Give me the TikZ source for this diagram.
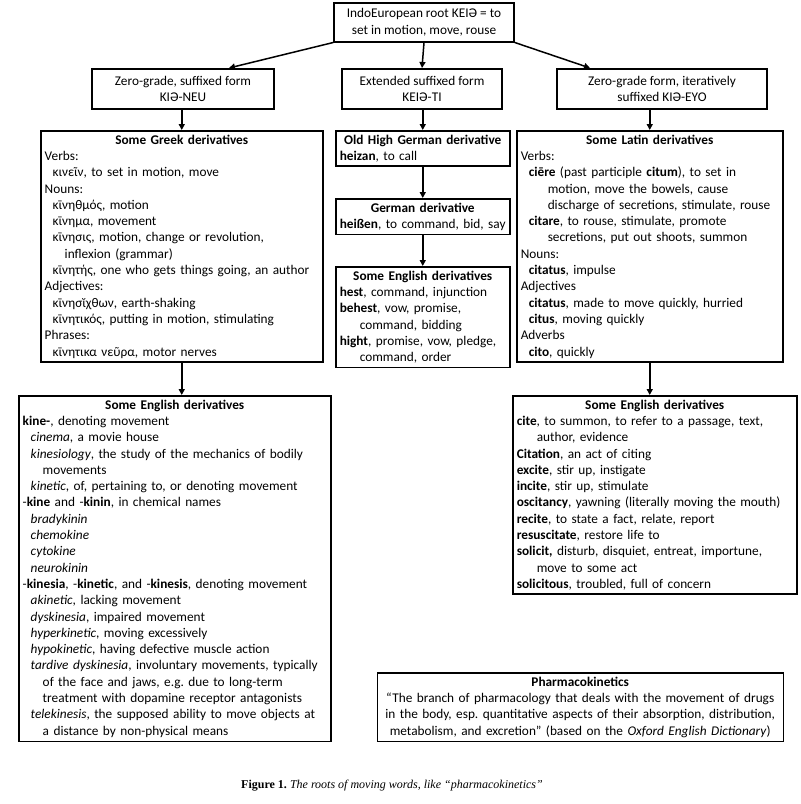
\documentclass[tikz,border=0pt]{standalone}
\usepackage{fontspec}
\setmainfont{Carlito}
\newfontfamily\capfont{Liberation Serif}
\usetikzlibrary{arrows.meta,positioning}
\setlength{\parindent}{0pt}
\frenchspacing
\newcommand{\txt}{\fontsize{13.3}{16.3}\selectfont}
\newcommand{\boxhead}[1]{{\centering\bfseries #1\par}}
\newcommand{\ia}{\hspace*{8pt}}
\newcommand{\ib}{\hspace*{20pt}}
\newcommand{\ic}{\hspace*{27pt}}
\begin{document}
\begin{tikzpicture}[x=1pt, y=-1pt,
  formbox/.style={draw, line width=1.5pt, anchor=north, align=center,
    inner sep=3pt, minimum height=40pt, font=\txt},
  panel/.style={draw, line width=1.5pt, anchor=north west, align=left,
    inner xsep=4pt, inner ysep=4pt, font=\txt},
  arr/.style={-{Triangle[length=6pt,width=6pt]}, line width=1.5pt}
]
\useasboundingbox (0,0) rectangle (801,804);

%% Root and the three forms
\node[formbox, minimum width=180pt, minimum height=39pt] (root) at (424,2)
  {IndoEuropean root KEIƏ = to\\set in motion, move, rouse};
\node[formbox, minimum width=182pt] (zero) at (183,68)
  {Zero-grade, suffixed form\\KIƏ-NEU};
\node[formbox, minimum width=160pt] (ext) at (422,68)
  {Extended suffixed form\\KEIƏ-TI};
\node[formbox, minimum width=210pt] (iter) at (662,68)
  {Zero-grade form, iteratively\\suffixed KIƏ-EYO};

%% Greek column
\node[panel, text width=274pt] (greek) at (40,130) {%
  \boxhead{Some Greek derivatives}
  Verbs:\\
  \ia κινεῖν, to set in motion, move\\
  Nouns:\\
  \ia κῑνηθμός, motion\\
  \ia κῑνημα, movement\\
  \ia κῑνησις, motion, change or revolution,\\
  \ib inflexion (grammar)\\
  \ia κῑνητής, one who gets things going, an author\\
  Adjectives:\\
  \ia κῑνησῐχθων, earth-shaking\\
  \ia κῑνητικός, putting in motion, stimulating\\
  Phrases:\\
  \ia κῑνητικα νεῦρα, motor nerves};

%% German column
\node[panel, text width=166pt] (ohg) at (335,130) {%
  \boxhead{Old High German derivative}
  \textbf{heizan}, to call};
\node[panel, text width=166pt] (german) at (335,198) {%
  \boxhead{German derivative}
  \textbf{heißen}, to command, bid, say};
\node[panel, text width=166pt] (engmid) at (335,266) {%
  \boxhead{Some English derivatives}
  \textbf{hest}, command, injunction\\
  \textbf{behest}, vow, promise,\\
  \ib command, bidding\\
  \textbf{hight}, promise, vow, pledge,\\
  \ib command, order};

%% Latin column
\node[panel, text width=258pt] (latin) at (516,130) {%
  \boxhead{Some Latin derivatives}
  Verbs:\\
  \ia\textbf{ciēre} (past participle \textbf{citum}), to set in\\
  \ic motion, move the bowels, cause\\
  \ic discharge of secretions, stimulate, rouse\\
  \ia\textbf{citare}, to rouse, stimulate, promote\\
  \ic secretions, put out shoots, summon\\
  Nouns:\\
  \ia\textbf{citatus}, impulse\\
  Adjectives\\
  \ia\textbf{citatus}, made to move quickly, hurried\\
  \ia\textbf{citus}, moving quickly\\
  Adverbs\\
  \ia\textbf{cito}, quickly};

%% English derivatives
\node[panel, text width=304pt] (engleft) at (18,395) {%
  \boxhead{Some English derivatives}
  \textbf{kine-}, denoting movement\\
  \ia\textit{cinema}, a movie house\\
  \ia\textit{kinesiology}, the study of the mechanics of bodily\\
  \ib movements\\
  \ia\textit{kinetic}, of, pertaining to, or denoting movement\\
  -\textbf{kine} and -\textbf{kinin}, in chemical names\\
  \ia\textit{bradykinin}\\
  \ia\textit{chemokine}\\
  \ia\textit{cytokine}\\
  \ia\textit{neurokinin}\\
  -\textbf{kinesia}, -\textbf{kinetic}, and -\textbf{kinesis}, denoting movement\\
  \ia\textit{akinetic}, lacking movement\\
  \ia\textit{dyskinesia}, impaired movement\\
  \ia\textit{hyperkinetic}, moving excessively\\
  \ia\textit{hypokinetic}, having defective muscle action\\
  \ia\textit{tardive dyskinesia}, involuntary movements, typically\\
  \ib of the face and jaws, e.g. due to long-term\\
  \ib treatment with dopamine receptor antagonists\\
  \ia\textit{telekinesis}, the supposed ability to move objects at\\
  \ib a distance by non-physical means};
\node[panel, text width=276pt] (engright) at (512,395) {%
  \boxhead{Some English derivatives}
  \textbf{cite}, to summon, to refer to a passage, text,\\
  \ib author, evidence\\
  \textbf{Citation}, an act of citing\\
  \textbf{excite}, stir up, instigate\\
  \textbf{incite}, stir up, stimulate\\
  \textbf{oscitancy}, yawning (literally moving the mouth)\\
  \textbf{recite}, to state a fact, relate, report\\
  \textbf{resuscitate}, restore life to\\
  \textbf{solicit,} disturb, disquiet, entreat, importune,\\
  \ib move to some act\\
  \textbf{solicitous}, troubled, full of concern};

%% Definition
\node[panel, anchor=north east, align=center, text width=398pt] (pharma) at (784,672) {%
  \textbf{Pharmacokinetics}\\
  “The branch of pharmacology that deals with the movement of drugs\\
  in the body, esp. quantitative aspects of their absorption, distribution,\\
  metabolism, and excretion” (based on the \textit{Oxford English Dictionary})};

\node[font=\capfont\fontsize{12}{14}\selectfont] (caption) at (392,786)
  {\textbf{Figure 1.} \textit{The roots of moving words, like “pharmacokinetics”}};

%% Arrows
\draw[arr] (root.south west) -- ([xshift=46pt]zero.north);
\draw[arr] (root.south) -- (ext.north);
\draw[arr] (root.south east) -- ([xshift=-72pt]iter.north);
\draw[arr] (zero.south -| greek.north) -- (greek.north);
\draw[arr] (ext.south -| ohg.north) -- (ohg.north);
\draw[arr] (iter.south -| latin.north) -- (latin.north);
\draw[arr] (ohg) -- (german);
\draw[arr] (german) -- (engmid);
\draw[arr] (greek) -- (engleft.north -| greek.south);
\draw[arr] (latin) -- (engright.north -| latin.south);

\end{tikzpicture}
\end{document}
